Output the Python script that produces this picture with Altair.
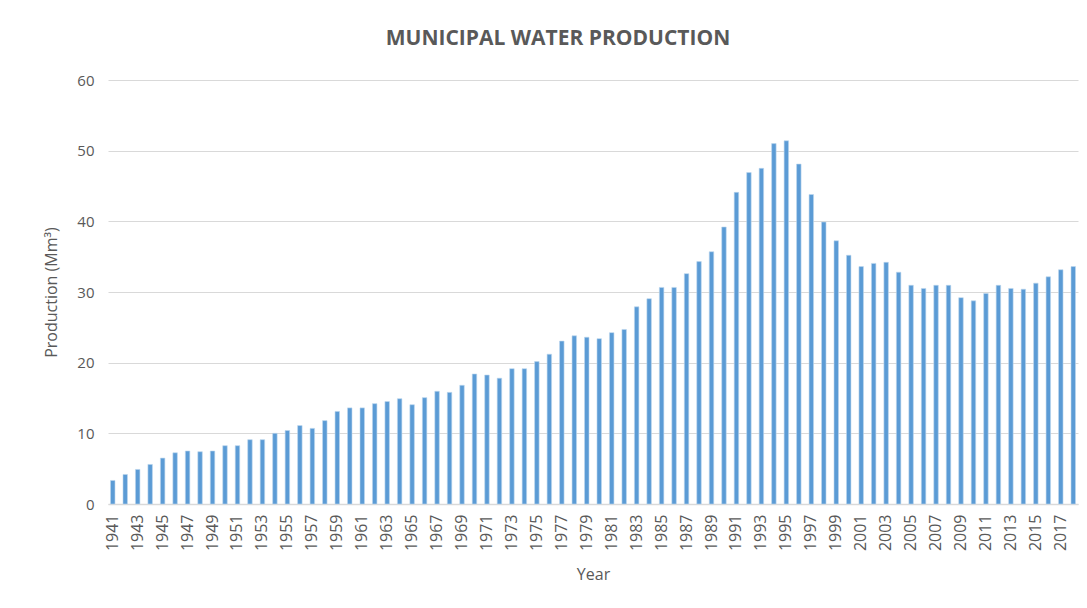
import altair as alt
import pandas as pd

years = list(range(1941, 2019))
production = [
    3.33, 4.18, 4.89, 5.6, 6.5, 7.25, 7.5, 7.4, 7.5, 8.25,
    8.25, 9.1, 9.1, 10.0, 10.4, 11.1, 10.7, 11.8, 13.1, 13.6,
    13.6, 14.2, 14.5, 14.9, 14.05, 15.05, 15.95, 15.8, 16.8, 18.4,
    18.25, 17.8, 19.15, 19.15, 20.15, 21.2, 23.05, 23.8, 23.6, 23.4,
    24.25, 24.7, 27.9, 29.05, 30.65, 30.65, 32.6, 34.3, 35.7, 39.2,
    44.1, 46.9, 47.5, 51.0, 51.4, 48.1, 43.8, 39.9, 37.25, 35.2,
    33.6, 34.05, 34.2, 32.8, 30.95, 30.5, 30.95, 30.95, 29.2, 28.75,
    29.8, 30.95, 30.5, 30.4, 31.25, 32.15, 33.15, 33.6,
]
tick_years = [y for y in years if (y - 1941) % 2 == 0]

df = pd.DataFrame({"Year": years, "Production": production})

FONT = "Open Sans"
TXT = "#595959"

bars = alt.Chart(df).mark_bar(
    color="#5B9BD5", stroke="#BDD7EE", strokeWidth=0.6
).encode(
    x=alt.X(
        "Year:O",
        scale=alt.Scale(paddingInner=0.64, paddingOuter=0.2),
        axis=alt.Axis(
            title="Year",
            values=tick_years,
            labelAngle=270,
            labelFontSize=16,
            labelColor=TXT,
            labelFont=FONT,
            labelPadding=10,
            ticks=False,
            domainColor="#D9D9D9",
            domainWidth=1.5,
            titleFontSize=16,
            titleFontWeight="normal",
            titleColor=TXT,
            titleFont=FONT,
            titlePadding=16,
        ),
    ),
    y=alt.Y(
        "Production:Q",
        scale=alt.Scale(domain=[0, 60]),
        axis=alt.Axis(
            title="Production (Mm³)",
            values=[0, 10, 20, 30, 40, 50, 60],
            labelFontSize=15,
            labelColor=TXT,
            labelFont=FONT,
            labelPadding=14,
            ticks=False,
            domain=False,
            gridColor="#D9D9D9",
            gridWidth=1.2,
            titleFontSize=16,
            titleFontWeight="normal",
            titleColor=TXT,
            titleFont=FONT,
            titlePadding=17,
        ),
    ),
    tooltip=["Year", "Production"],
)

chart = bars.properties(
    width=970,
    height=424,
    title=alt.TitleParams(
        "MUNICIPAL WATER PRODUCTION",
        fontSize=21,
        fontWeight="bold",
        color=TXT,
        font=FONT,
        offset=24,
        anchor="middle",
        dx=-35,
    ),
    autosize=alt.AutoSizeParams(type="none"),
    padding={"left": 100, "top": 72, "right": 1, "bottom": 100},
).configure_view(stroke=None)

chart.save("out.html", embed_options={"renderer": "svg", "actions": False})
